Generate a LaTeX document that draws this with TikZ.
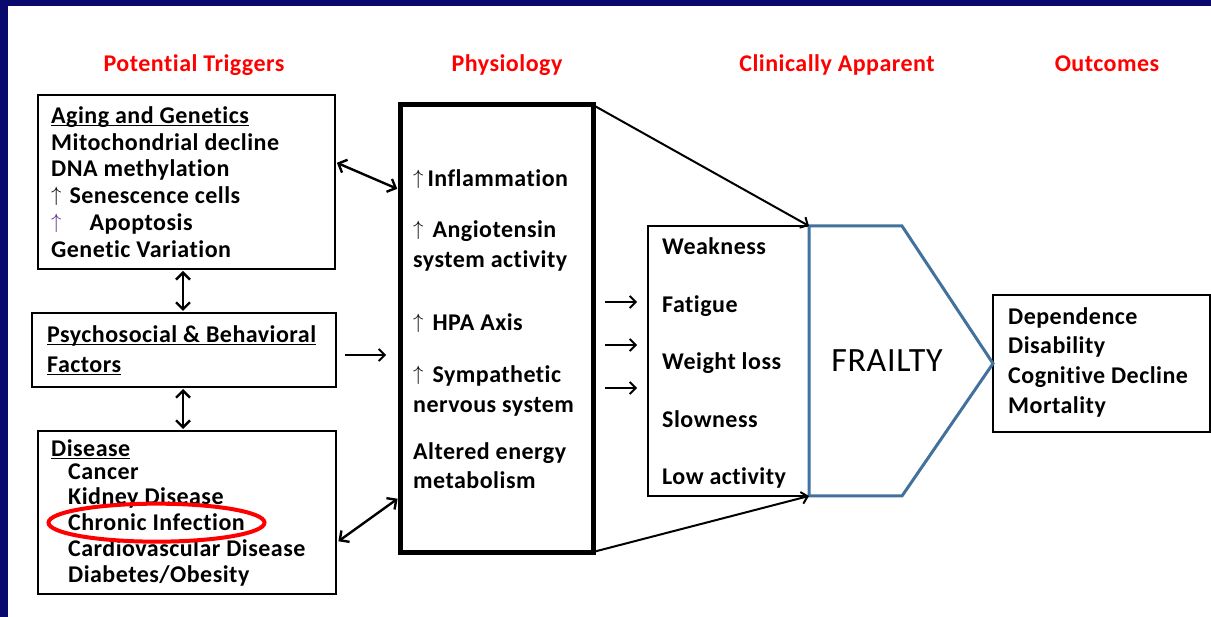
\documentclass[tikz,border=0pt]{standalone}
\usepackage{fontspec}
\setmainfont{Carlito}[LetterSpace=2.0, Ligatures=NoCommon]
\usetikzlibrary{arrows.meta}

\definecolor{navyband}{RGB}{10,10,110}
\definecolor{frailblue}{RGB}{65,113,156}
\definecolor{apopurple}{RGB}{90,40,130}

\newcommand{\undl}[1]{\setbox0\hbox{#1}\rlap{\rule[-2.5pt]{\wd0}{1.3pt}}\box0}
\newcommand{\upar}{{\fontsize{20}{20}\selectfont\raisebox{2.5pt}{$\uparrow$}}}

\tikzset{
  box/.style={draw, line width=1.3pt, inner sep=0pt, outer sep=0pt},
  txt/.style={font=\bfseries\fontsize{24}{28}\selectfont, anchor=base west, inner sep=0pt},
  title/.style={font=\bfseries\fontsize{24}{28}\selectfont, text=red, anchor=base, inner sep=0pt},
  twoway/.style={line width=2.4pt, {Straight Barb[length=7pt,width=14pt]}-{Straight Barb[length=7pt,width=14pt]}},
  oneway/.style={line width=1.8pt, -{Straight Barb[length=6pt,width=12pt]}},
}

\begin{document}
\begin{tikzpicture}[x=1pt, y=-1pt]
        \useasboundingbox (0,0) rectangle (1211,617);
        \fill[navyband] (0,0) rectangle (1211,617);
        \fill[white] (8,6) rectangle (1211,617);

        % column headings
        \node[title] (ttrig) at (194,72) {Potential Triggers};
        \node[title] (tphys) at (507,72) {Physiology};
        \node[title] (tclin) at (837,72) {Clinically Apparent};
        \node[title] (tout) at (1107,72) {Outcomes};

        % boxes
        \node[box, minimum width=297pt, minimum height=174pt] (aging) at (186.5,182) {};
        \node[box, minimum width=304pt, minimum height=74pt] (psych) at (184,350) {};
        \node[box, minimum width=298pt, minimum height=163pt] (disease) at (187,512.5) {};
        \node[box, line width=5pt, minimum width=193pt, minimum height=447pt] (phys) at (496.5,328.5) {};
        \node[box, minimum width=161pt, minimum height=270pt] (clin) at (728.5,361) {};
        \node[box, minimum width=217pt, minimum height=137pt] (outc) at (1101.5,363.5) {};

        % triggers
        \node[txt] (ag0) at (51,124) {\undl{Aging and Genetics}};
        \node[txt] (ag1) at (51,151) {Mitochondrial decline};
        \node[txt] (ag2) at (51,177) {DNA methylation};
        \node[txt] (ag3) at (51,204) {\upar\hspace{8pt}Senescence cells};
        \node[txt] (ag4) at (51,231) {\textcolor{apopurple}{\upar}\hspace{28pt}Apoptosis};
        \node[txt] (ag5) at (51,258) {Genetic Variation};

        \node[txt] (ps0) at (47,343) {\undl{Psychosocial \& Behavioral}};
        \node[txt] (ps1) at (47,373) {\undl{Factors}};

        \node[txt] (di0) at (51,457) {\undl{Disease}};
        \node[txt] (di1) at (68,480) {Cancer};
        \node[txt] (di2) at (68,505) {Kidney Disease};
        \node[txt] (chronic) at (68,531) {Chronic Infection};
        \node[txt] (di4) at (68,557) {Cardiovascular Disease};
        \node[txt] (di5) at (68,582) {Diabetes/Obesity};

        \draw[red, line width=4pt] (chronic.center) ellipse [x radius=108pt, y radius=19pt];

        % physiology
        \node[txt] (ph1) at (413,187) {\upar\hspace{4pt}Inflammation};
        \node[txt] (ph2) at (413,238) {\upar\hspace{9pt}Angiotensin};
        \node[txt] (ph3) at (413,268) {system activity};
        \node[txt] (ph4) at (413,331) {\upar\hspace{9pt}HPA Axis};
        \node[txt] (ph5) at (413,383) {\upar\hspace{9pt}Sympathetic};
        \node[txt] (ph6) at (413,413) {nervous system};
        \node[txt] (ph7) at (413,460) {Altered energy};
        \node[txt] (ph8) at (413,489) {metabolism};

        % clinically apparent
        \node[txt] (cl1) at (662,255) {Weakness};
        \node[txt] (cl2) at (662,313) {Fatigue};
        \node[txt] (cl3) at (662,370) {Weight loss};
        \node[txt] (cl4) at (662,428) {Slowness};
        \node[txt] (cl5) at (662,485) {Low activity};

        % frailty
        \draw[frailblue, line width=3pt] (clin.north east) -- ++(93,0) -- (outc.west)
            -- ([xshift=93pt]clin.south east) -- (clin.south east) -- cycle;
        \node[font=\fontsize{34}{38}\selectfont, anchor=base, inner sep=0pt] (frailty) at (887,372) {FRAILTY};

        % outcomes
        \node[txt] (ou1) at (1008,325) {Dependence};
        \node[txt] (ou2) at (1008,354) {Disability};
        \node[txt] (ou3) at (1008,384) {Cognitive Decline};
        \node[txt] (ou4) at (1008,414) {Mortality};

        % connectors
        \draw[twoway, shorten <=2pt, shorten >=3pt] ([yshift=20pt]aging.east) -- ([yshift=138.5pt]phys.west);
        \draw[twoway, shorten <=2pt, shorten >=2pt] ([xshift=-3.5pt]aging.south) -- ([xshift=-1pt]psych.north);
        \draw[twoway, shorten <=2pt, shorten >=2pt] ([xshift=-1pt]psych.south) -- ([xshift=-4pt]disease.north);
        \draw[oneway, shorten <=9pt, shorten >=14pt] ([yshift=-5pt]psych.east) -- ([yshift=-26.5pt]phys.west);
        \draw[twoway, shorten <=3pt, shorten >=3pt] ([yshift=-30.5pt]disease.east) -- ([yshift=-168.5pt]phys.west);

        \draw[oneway, shorten <=12pt, shorten >=11pt] ([yshift=26.5pt]phys.east) -- ([yshift=59pt]clin.west);
        \draw[oneway, shorten <=12pt, shorten >=11pt] ([yshift=-16.5pt]phys.east) -- ([yshift=16pt]clin.west);
        \draw[oneway, shorten <=12pt, shorten >=11pt] ([yshift=-59.5pt]phys.east) -- ([yshift=-27pt]clin.west);

        \draw[oneway, line width=2pt] (phys.north east) -- (clin.north east);
        \draw[oneway, line width=2pt] (phys.south east) -- (clin.south east);
\end{tikzpicture}
\end{document}
